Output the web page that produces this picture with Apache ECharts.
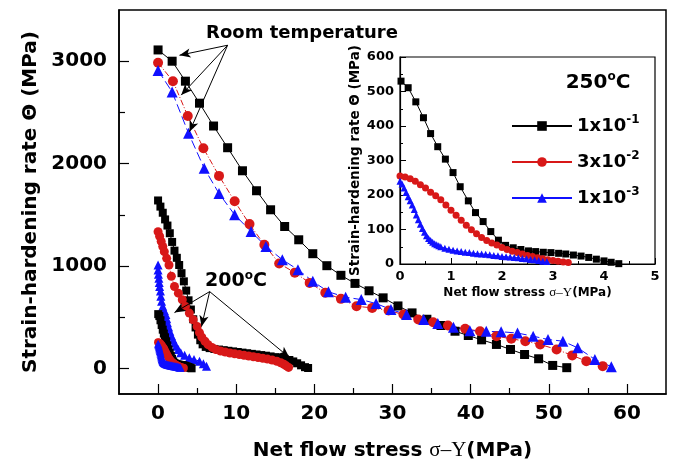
<!DOCTYPE html>
<html><head><meta charset="utf-8">
<script src="https://cdn.jsdelivr.net/npm/echarts@6/dist/echarts.min.js"></script>
<style>html,body{margin:0;padding:0;background:#fff}#c{width:674px;height:474px}</style>
</head><body><div id="c"></div>
<script>
// ---------- data (x = net flow stress MPa, y = strain-hardening rate MPa) ----------
// Room temperature
const rt_1e1 = [[0,3110],[1.8,3000],[3.5,2805],[5.3,2590],[7.1,2367],[8.9,2155],[10.8,1930],[12.6,1735],[14.4,1549],[16.2,1386],[18.0,1256],[19.8,1120],[21.6,1003],[23.4,909],[25.2,830],[27.0,758],[28.8,689],[30.7,610],[32.5,542],[34.4,480],[36.2,419],[38.0,363],[39.7,321],[41.4,279],[43.3,234],[45.1,185],[46.9,136],[48.7,94],[50.5,29],[52.3,7]];
const rt_3e2 = [[0,2985],[1.9,2805],[3.8,2465],[5.8,2150],[7.8,1880],[9.8,1632],[11.7,1409],[13.6,1208],[15.5,1025],[17.5,935],[19.4,835],[21.4,738],[23.4,679],[25.4,607],[27.4,591],[29.5,565],[31.4,526],[33.3,477],[35.2,451],[37.1,419],[39.3,387],[41.2,363],[43.3,315],[45.2,289],[47.0,266],[48.9,234],[51.0,185],[53.0,127],[54.8,71],[56.9,22]];
const rt_1e3 = [[0,2910],[1.8,2700],[3.9,2296],[5.9,1955],[7.8,1708],[9.8,1500],[11.9,1337],[13.8,1191],[15.9,1062],[17.9,964],[19.8,850],[21.8,748],[24.0,695],[26.0,672],[27.9,633],[29.8,575],[31.8,526],[34.0,477],[35.8,438],[37.8,402],[39.9,368],[42.0,362],[43.9,358],[46.0,345],[48.0,315],[49.9,282],[51.8,266],[53.7,201],[55.9,88],[58.0,17]];
// 200 C
const t200_1e1 = [[0,1640],[0.3,1580],[0.6,1520],[0.9,1455],[1.2,1395],[1.5,1320],[1.8,1235],[2.1,1150],[2.4,1080],[2.7,1010],[3.0,930],[3.3,850],[3.6,760],[3.9,665],[4.2,575],[4.5,480],[4.8,400],[5.1,330],[5.4,275],[5.7,235],[6.1,210],[6.6,198],[7.2,190],[7.8,184],[8.4,178],[9.0,172],[9.6,166],[10.2,160],[10.8,154],[11.4,148],[12.0,142],[12.6,136],[13.2,130],[13.8,124],[14.4,117],[15.0,110],[15.6,102],[16.2,93],[16.8,82],[17.3,68],[17.8,50],[18.3,30],[18.8,12],[19.2,4]];
const t200_3e2 = [[0,1335],[0.2,1290],[0.4,1240],[0.6,1190],[0.8,1140],[1.1,1075],[1.4,1010],[1.7,900],[2.1,800],[2.6,735],[3.1,670],[3.5,605],[4.0,540],[4.5,475],[5.0,410],[5.3,350],[5.6,305],[6.0,265],[6.4,232],[6.9,205],[7.4,185],[8.0,170],[8.6,160],[9.2,150],[9.8,142],[10.4,135],[11.0,128],[11.6,121],[12.2,114],[12.8,107],[13.4,99],[14.0,91],[14.6,82],[15.2,70],[15.7,55],[16.1,40],[16.4,25],[16.7,10]];
const t200_1e3 = [[0,1010],[0,960],[0.05,920],[0.1,880],[0.15,840],[0.2,800],[0.3,755],[0.35,704],[0.45,655],[0.6,607],[0.8,565],[1.0,526],[1.1,485],[1.2,445],[1.35,405],[1.5,363],[1.7,322],[1.9,282],[2.1,250],[2.3,217],[2.6,185],[2.9,153],[3.4,128],[4.0,104],[4.6,88],[5.3,71],[5.8,45],[6.2,20]];
// 250 C (inset and main)
const t250_1e1 = [[0.02,530],[0.16,511],[0.31,470],[0.46,424],[0.60,378],[0.74,340],[0.89,304],[1.04,265],[1.18,224],[1.34,183],[1.48,149],[1.63,123],[1.78,94],[1.93,69],[2.07,54],[2.22,47],[2.37,42],[2.52,38],[2.66,36],[2.81,34],[2.96,33],[3.11,31],[3.25,29],[3.40,26],[3.55,23],[3.70,19],[3.85,14],[4.00,9],[4.14,5],[4.29,1]];
const t250_3e2 = [[0,255],[0.1,252],[0.2,247],[0.3,240],[0.4,230],[0.5,220],[0.6,208],[0.7,198],[0.8,186],[0.9,171],[1.0,156],[1.1,141],[1.2,127],[1.3,112],[1.4,99],[1.5,88],[1.6,77],[1.7,68],[1.8,61],[1.9,55],[2.0,48],[2.1,42],[2.2,37],[2.3,33],[2.4,29],[2.5,25],[2.6,22],[2.7,18],[2.8,15],[2.9,12],[3.0,10],[3.1,8],[3.2,6],[3.3,4]];
const t250_1e3 = [[0,240],[0.04,232],[0.08,220],[0.12,207],[0.16,195],[0.20,183],[0.24,171],[0.28,158],[0.32,142],[0.36,128],[0.40,115],[0.44,103],[0.48,92],[0.52,82],[0.56,74],[0.60,68],[0.64,63],[0.68,59],[0.72,56],[0.76,53],[0.80,50],[0.88,46],[0.96,43],[1.04,40],[1.12,38],[1.20,36],[1.28,34],[1.36,33],[1.44,31],[1.52,30],[1.60,29],[1.68,28],[1.76,27],[1.84,25],[1.92,24],[2.00,22],[2.08,21],[2.16,20],[2.24,19],[2.32,18],[2.40,16],[2.48,15],[2.56,13],[2.64,12],[2.72,10],[2.80,8],[2.88,7]];
// ticks
const mainXLabels = [0,10,20,30,40,50,60];
const mainXMinor = [5,15,25,35,45,55];
const mainYLabels = [0,1000,2000,3000];
const mainYMinor = [500,1500,2500];
const legendNames = ['r1','r2','r3'];
const legendTexts = {r1:'{a|1x10}{b|-1}', r2:'{a|3x10}{b|-2}', r3:'{a|1x10}{b|-3}'};
// annotation arrows (data coordinates)
const rtArrowFrom = [8.9,3156];
const rtArrowTo = [[2.74,3058],[2.96,2669],[4.02,2311]];
const t200ArrowFrom = [6.6,750];
const t200ArrowTo = [[2.1,545],[5.56,409],[16.8,107]];

// ---------- styling ----------
const F = 'DejaVu Sans';
const BLACK = '#000000', RED = '#d81818', BLUE = '#1010ff';
const chart = echarts.init(document.getElementById('c'), null, {renderer:'canvas'});

function mk(name, data, color, symbol, size, lineType, gi, extra) {
  return Object.assign({
    name, type:'line', data, xAxisIndex: gi===0?0:2, yAxisIndex: gi===0?0:2,
    symbol, symbolSize: size, showSymbol:true,
    itemStyle:{color, borderWidth:0},
    lineStyle:{color, width:1, type: lineType},
    emphasis:{disabled:true}, animation:false, z: 3
  }, extra || {});
}
function arrows(from, tos) {
  return {
    silent:true, symbol:['none','arrow'], symbolSize:[7,11],
    label:{show:false}, lineStyle:{color:'#000', width:1, type:'solid'},
    emphasis:{disabled:true},
    data: tos.map(t => [{coord: from}, {coord: t}])
  };
}
const boldText = (size) => ({fontFamily:F, fontWeight:'bold', fontSize:size, color:'#000'});
const plain = v => String(v);

const option = {
  backgroundColor:'#fff',
  animation:false,
  grid:[
    {left:119, top:10, width:547, height:384, show:true, borderColor:'#000', borderWidth:1.5, backgroundColor:'transparent', outerBoundsMode:'none', containLabel:false},
    {left:400, top:57, width:255, height:207, show:true, borderColor:'#000', borderWidth:1.2, backgroundColor:'#fff', outerBoundsMode:'none', containLabel:false}
  ],
  xAxis:[
    {gridIndex:0, type:'value', min:-5, max:65, position:'bottom',
     axisLine:{show:true, onZero:false, lineStyle:{color:'#000', width:1.5}},
     axisTick:{show:true, inside:true, length:10, customValues: mainXLabels, lineStyle:{color:'#000', width:1.2}},
     axisLabel:{show:true, customValues: mainXLabels, margin:10, formatter: plain, ...boldText(20)},
     splitLine:{show:false},
     name:'Net flow stress {s|σ–Υ}(MPa)', nameLocation:'middle', nameGap:46,
     nameTextStyle:{...boldText(20), rich:{s:{fontFamily:'Liberation Serif', fontWeight:'normal', fontSize:21, color:'#000'}}}},
    {gridIndex:0, type:'value', min:-5, max:65, position:'bottom',
     axisLine:{show:false, onZero:false},
     axisTick:{show:true, inside:true, length:6, customValues: mainXMinor, lineStyle:{color:'#000', width:1.2}},
     axisLabel:{show:false}, splitLine:{show:false}},
    {gridIndex:1, type:'value', min:0, max:5, interval:1, position:'bottom',
     axisLine:{show:true, onZero:false, lineStyle:{color:'#000', width:1.2}},
     axisTick:{show:true, inside:true, length:6, lineStyle:{color:'#000'}},
     minorTick:{show:true, splitNumber:2, length:3, lineStyle:{color:'#000'}},
     axisLabel:{margin:6, formatter: plain, ...boldText(13)},
     splitLine:{show:false},
     name:'Net flow stress {s|σ–Υ}(MPa)', nameLocation:'middle', nameGap:22,
     nameTextStyle:{...boldText(12), rich:{s:{fontFamily:'Liberation Serif', fontWeight:'normal', fontSize:13, color:'#000'}}}}
  ],
  yAxis:[
    {gridIndex:0, type:'value', min:-250, max:3500, position:'left',
     axisLine:{show:true, onZero:false, lineStyle:{color:'#000', width:1.5}},
     axisTick:{show:true, inside:true, length:10, customValues: mainYLabels, lineStyle:{color:'#000', width:1.2}},
     axisLabel:{show:true, customValues: mainYLabels, margin:12, formatter: plain, ...boldText(20)},
     splitLine:{show:false},
     name:'Strain-hardening rate Θ (MPa)', nameLocation:'middle', nameGap:76, nameRotate:90,
     nameTextStyle: boldText(20)},
    {gridIndex:0, type:'value', min:-250, max:3500, position:'left',
     axisLine:{show:false, onZero:false},
     axisTick:{show:true, inside:true, length:6, customValues: mainYMinor, lineStyle:{color:'#000', width:1.2}},
     axisLabel:{show:false}, splitLine:{show:false}},
    {gridIndex:1, type:'value', min:0, max:600, interval:100, position:'left',
     axisLine:{show:true, onZero:false, lineStyle:{color:'#000', width:1.2}},
     axisTick:{show:true, inside:true, length:6, lineStyle:{color:'#000'}},
     minorTick:{show:true, splitNumber:2, length:3, lineStyle:{color:'#000'}},
     axisLabel:{margin:6, formatter: plain, ...boldText(13)},
     splitLine:{show:false},
     name:'Strain-hardening rate Θ (MPa)', nameLocation:'middle', nameGap:36, nameRotate:90,
     nameTextStyle: boldText(13.5)}
  ],
  legend:{
    show:true, orient:'vertical', left:511, top:114, padding:0, itemWidth:60, itemHeight:12, itemGap:15,
    data: legendNames, selectedMode:false,
    formatter: n => legendTexts[n],
    textStyle:{rich:{
      a:{fontFamily:F, fontWeight:'bold', fontSize:18, lineHeight:24, color:'#000'},
      b:{fontFamily:F, fontWeight:'bold', fontSize:12, lineHeight:12, verticalAlign:'top', color:'#000'}
    }}
  },
  graphic:[
    {type:'text', x:302, y:33, silent:true, z:10,
     style:{text:'Room temperature', fontFamily:F, fontWeight:'bold', fontSize:18, fill:'#000', align:'center', verticalAlign:'middle'}},
    {type:'text', x:236, y:281, silent:true, z:10,
     style:{text:'{a|200}{s|o}{a|C}', align:'center', verticalAlign:'middle',
            rich:{a:{fontFamily:F, fontWeight:'bold', fontSize:19, lineHeight:22, fill:'#000'},
                  s:{fontFamily:F, fontWeight:'bold', fontSize:12, lineHeight:12, verticalAlign:'top', fill:'#000'}}}},
    {type:'text', x:598, y:83, silent:true, z:10,
     style:{text:'{a|250}{s|o}{a|C}', align:'center', verticalAlign:'middle',
            rich:{a:{fontFamily:F, fontWeight:'bold', fontSize:20, lineHeight:24, fill:'#000'},
                  s:{fontFamily:F, fontWeight:'bold', fontSize:12, lineHeight:12, verticalAlign:'top', fill:'#000'}}}}
  ],
  series:[
    mk('RT a', rt_1e1, BLACK, 'rect', 9, 'solid', 0, {markLine: arrows(rtArrowFrom, rtArrowTo)}),
    mk('RT b', rt_3e2, RED, 'circle', 10, [6,2,1,2], 0),
    mk('RT c', rt_1e3, BLUE, 'triangle', 11, [9,4], 0),
    mk('200 a', t200_1e1, BLACK, 'rect', 8, 'solid', 0, {markLine: arrows(t200ArrowFrom, t200ArrowTo)}),
    mk('200 b', t200_3e2, RED, 'circle', 9, [6,2,1,2], 0),
    mk('200 c', t200_1e3, BLUE, 'triangle', 9, [9,4], 0),
    mk('250 a', t250_1e1, BLACK, 'rect', 8, 'solid', 0),
    mk('250 b', t250_3e2, RED, 'circle', 8, [6,2,1,2], 0),
    mk('250 c', t250_1e3, BLUE, 'triangle', 8, [9,4], 0),
    mk('r1', t250_1e1, BLACK, 'rect', 7, 'solid', 1),
    mk('r2', t250_3e2, RED, 'circle', 7, 'solid', 1),
    mk('r3', t250_1e3, BLUE, 'triangle', 7, 'solid', 1)
  ]
};
chart.setOption(option);
</script>
</body></html>
